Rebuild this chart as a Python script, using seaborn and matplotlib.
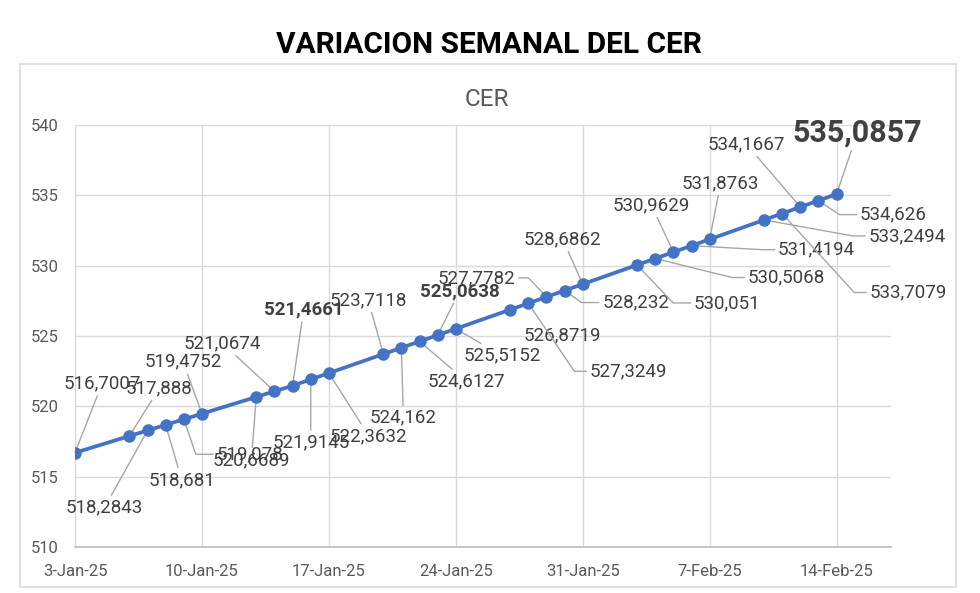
import math
import pandas as pd
import seaborn as sns
import matplotlib.pyplot as plt
import matplotlib.dates as mdates
from matplotlib.patches import Rectangle

# CER values (weekdays only)
dates = ["2025-01-03", "2025-01-06", "2025-01-07", "2025-01-08", "2025-01-09",
         "2025-01-10", "2025-01-13", "2025-01-14", "2025-01-15", "2025-01-16",
         "2025-01-17", "2025-01-20", "2025-01-21", "2025-01-22", "2025-01-23",
         "2025-01-24", "2025-01-27", "2025-01-28", "2025-01-29", "2025-01-30",
         "2025-01-31", "2025-02-03", "2025-02-04", "2025-02-05", "2025-02-06",
         "2025-02-07", "2025-02-10", "2025-02-11", "2025-02-12", "2025-02-13",
         "2025-02-14"]
cer = [516.7007, 517.888, 518.2843, 518.681, 519.078,
       519.4752, 520.6689, 521.0674, 521.4661, 521.9145,
       522.3632, 523.7118, 524.162, 524.6127, 525.0638,
       525.5152, 526.8719, 527.3249, 527.7782, 528.232,
       528.6862, 530.051, 530.5068, 530.9629, 531.4194,
       531.8763, 533.2494, 533.7079, 534.1667, 534.626,
       535.0857]
x_ticks = ["2025-01-03", "2025-01-10", "2025-01-17", "2025-01-24",
           "2025-01-31", "2025-02-07", "2025-02-14"]

# label placement (offset in pixels from each point) and leader type
label_dx = [27, 30, -43, 16, 66, -19, -5, -52, 11, 0, 40, -15, 2, 47, 22, 46,
            52, 100, -70, 71, -20, 90, 131, -22, 125, 11, 143, 126, -54, 75, 21]
label_dy = [69, 48, -77, -55, -35, 52, -63, 48, 76, -63, -63, 54, -70, -40, 44, -27,
            -26, -68, 19, -12, 45, -38, -19, 47, -4, 56, -16, -79, 63, -14, 62]
leader = ["s", "s", "s", "s", "L", "s", "s", "s", "s", "s", "s", "s", "s", "s", "s", "s",
          None, "L", "R", "L", "s", "L", "L", "s", "L", "s", "L", "L", "s", "L", "s"]
bold_idx = {8, 14}

df = pd.DataFrame({"fecha": pd.to_datetime(dates), "cer": cer})

sns.set_theme(style="white")
plt.rcParams["font.family"] = ["Roboto", "DejaVu Sans"]

fig = plt.figure(figsize=(9.8, 5.93), dpi=100)
fig.patches.append(Rectangle((20 / 980, 1 - 587 / 593), 936 / 980, 523 / 593,
                             transform=fig.transFigure, fill=False,
                             edgecolor="#D9D9D9", lw=1.2))
ax = fig.add_axes([75 / 980, 1 - 547 / 593, 816 / 980, 422 / 593])

sns.lineplot(data=df, x="fecha", y="cer", ax=ax, color="#4472C4", lw=2.7,
             marker="o", markersize=9, markeredgewidth=0, zorder=5)

ax.set_ylim(510, 540)
ax.set_yticks(range(510, 541, 5))
ax.set_xlim(pd.Timestamp("2025-01-03"), pd.Timestamp("2025-02-17"))
ax.set_xticks(pd.to_datetime(x_ticks))
ax.xaxis.set_major_formatter(mdates.DateFormatter("%-d-%b-%y"))
ax.grid(True, color="#D9D9D9", lw=1)
ax.set_axisbelow(True)
for s in ["top", "right", "left"]:
    ax.spines[s].set_visible(False)
ax.spines["bottom"].set_color("#BFBFBF")
ax.tick_params(axis="both", length=0, labelsize=12, labelcolor="#595959", pad=12)
ax.set_xlabel("")
ax.set_ylabel("")

for i, (d, v) in enumerate(zip(df["fecha"], cer)):
    txt = format(v, ".4f").rstrip("0").rstrip(".").replace(".", ",")
    dx, dy = label_dx[i], label_dy[i]
    size, weight = 13.5, "normal"
    if i in bold_idx:
        weight = "bold"
    if i == len(cer) - 1:
        size, weight = 22, "bold"
    arrow = None
    if leader[i] == "s":
        arrow = dict(arrowstyle="-", color="#A6A6A6", lw=1, shrinkA=0, shrinkB=0)
    elif leader[i] in ("L", "R"):
        cx = dx - 54 if leader[i] == "L" else dx + 52
        ang = math.degrees(math.atan2(dy, cx))
        arrow = dict(arrowstyle="-", color="#A6A6A6", lw=1, shrinkA=0, shrinkB=0,
                     relpos=(0, 0.5) if leader[i] == "L" else (1, 0.5),
                     connectionstyle=f"angle,angleA=0,angleB={ang},rad=0")
    ax.annotate(txt, xy=(d, v), xytext=(dx, dy), textcoords="offset pixels",
                ha="center", va="center", fontsize=size, fontweight=weight,
                color="#404040", arrowprops=arrow, zorder=4, annotation_clip=False)

fig.text(489 / 980, 1 - 45 / 593, "VARIACION SEMANAL DEL CER", ha="center",
         va="center", fontsize=21.5, fontweight="bold", color="black")
fig.text(487 / 980, 1 - 100 / 593, "CER", ha="center", va="center",
         fontsize=17.5, color="#595959")

fig.savefig("out.png", dpi=100)
